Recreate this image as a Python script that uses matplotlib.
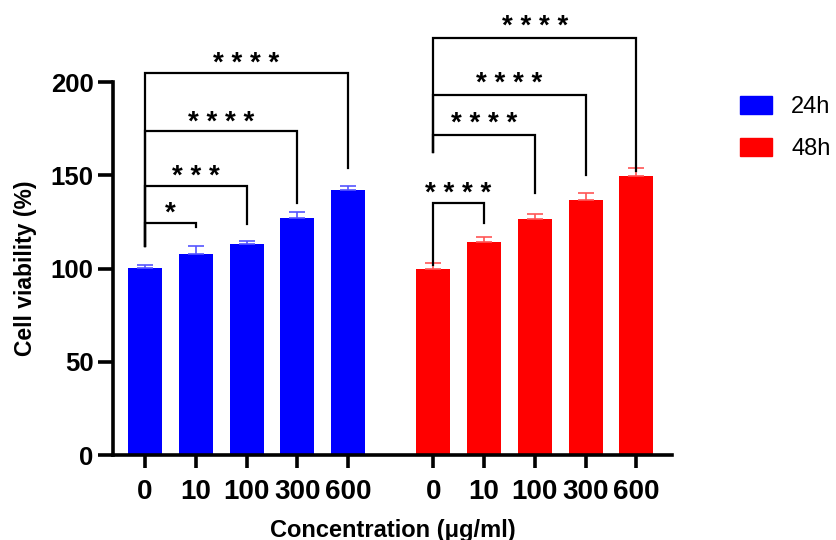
import matplotlib.pyplot as plt
from matplotlib.patches import Patch

plt.rcParams['font.family'] = ['Liberation Sans', 'DejaVu Sans']

conc_labels = ['0', '10', '100', '300', '600']
viab_24h = [100.3, 108.0, 113.0, 127.2, 142.0]
err_24h = [1.8, 4.4, 1.6, 3.4, 2.4]
viab_48h = [100.0, 114.2, 126.5, 136.7, 149.8]
err_48h = [3.0, 2.8, 2.9, 3.6, 4.2]

# significance brackets: (group, i, j, bracket y, left leg bottom, right leg bottom, stars, star y)
brackets = [
    (0, 0, 1, 124.4, 112.0, 122.4, '*', 129.7),
    (0, 0, 2, 144.2, 112.0, 124.2, '* * *', 149.3),
    (0, 0, 3, 173.7, 112.0, 135.0, '* * * *', 178.3),
    (0, 0, 4, 204.7, 112.0, 154.2, '* * * *', 209.8),
    (1, 0, 1, 135.0, 102.0, 124.4, '* * * *', 139.9),
    (1, 0, 2, 171.6, 162.6, 140.8, '* * * *', 177.3),
    (1, 0, 3, 193.2, 162.6, 150.0, '* * * *', 199.1),
    (1, 0, 4, 223.8, 162.6, 152.4, '* * * *', 229.3),
]

group_offset = 5.675
x24 = [i for i in range(5)]
x48 = [i + group_offset for i in range(5)]
xs = [x24, x48]

fig = plt.figure(figsize=(8.37, 5.4), dpi=100)
ax = fig.add_axes([0.135, 0.157, 0.668, 0.691])

ax.bar(x24, viab_24h, width=0.67, color='#0000ff', zorder=2)
ax.bar(x48, viab_48h, width=0.67, color='#ff0000', zorder=2)
ax.errorbar(x24, viab_24h, yerr=[[0] * 5, err_24h], fmt='none', ecolor='#5555ff',
            elinewidth=1.2, capsize=6, capthick=1.2, zorder=3)
ax.errorbar(x48, viab_48h, yerr=[[0] * 5, err_48h], fmt='none', ecolor='#ff5555',
            elinewidth=1.2, capsize=6, capthick=1.2, zorder=3)

for g, i, j, yb, lb, rb, stars, sy in brackets:
    x1, x2 = xs[g][i], xs[g][j]
    ax.plot([x1, x1, x2, x2], [lb, yb, yb, rb], color='black', lw=1.6,
            clip_on=False, solid_joinstyle='miter', zorder=4)
    ax.text((x1 + x2) / 2, sy, stars, ha='center', va='center', fontsize=20,
            fontweight='bold', clip_on=False)

ax.set_xlim(-0.63, 10.38)
ax.set_ylim(0, 200)
ax.set_yticks([0, 50, 100, 150, 200])
ax.set_xticks(x24 + x48)
ax.set_xticklabels(conc_labels + conc_labels)

for s in ['top', 'right']:
    ax.spines[s].set_visible(False)
for s in ['left', 'bottom']:
    ax.spines[s].set_linewidth(2.6)

ax.tick_params(axis='y', length=11, width=2.6, labelsize=18.5, pad=3)
ax.tick_params(axis='x', length=9.4, width=2.6, labelsize=20, pad=7.5)
for lab in ax.get_xticklabels() + ax.get_yticklabels():
    lab.set_fontweight('bold')

ax.set_ylabel('Cell viability (%)', fontsize=16.5, fontweight='bold', labelpad=10)
ax.set_xlabel('Concentration (μg/ml)', fontsize=17, fontweight='bold', labelpad=10)

handles = [Patch(color='#0000ff', label='24h'), Patch(color='#ff0000', label='48h')]
fig.legend(handles=handles, loc='upper left', bbox_to_anchor=(0.873, 0.84), frameon=False,
           fontsize=17, handlelength=1.36, handleheight=0.8, handletextpad=0.8,
           labelspacing=0.85, borderaxespad=0)

fig.savefig('out.png', dpi=100)
